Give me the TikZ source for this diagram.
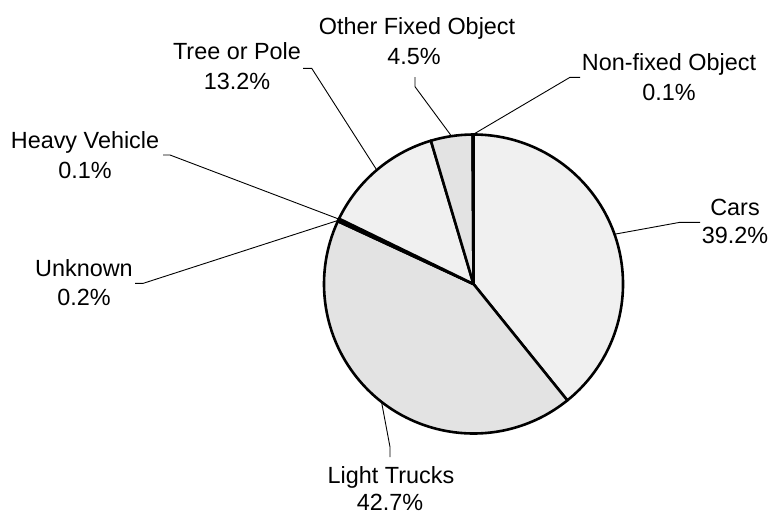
\documentclass[tikz,border=0pt]{standalone}
\usepackage{fontspec}
\setmainfont{Liberation Sans}
\begin{document}
\begin{tikzpicture}[x=1pt,y=-1pt,
  lbl/.style={anchor=base,inner sep=0pt,font=\fontsize{23.4}{29}\selectfont},
  leader/.style={draw=black,line width=0.9pt},
  slice/.style={draw=black,line width=2.6pt,line join=round}]
\useasboundingbox (0,0) rectangle (770,514);
\def\R{149.5}
\begin{scope}[shift={(473.5,284)},y=1pt]
  \coordinate (O) at (0,0);
  % slices clockwise from top
  \path[slice,fill=black!6] (O) -- (90:\R) arc[start angle=90,end angle=-51.12,radius=\R] -- cycle;
  \path[slice,fill=black!11] (O) -- (-51.12:\R) arc[start angle=-51.12,end angle=-204.84,radius=\R] -- cycle;
  \path[slice,fill=black] (O) -- (155.16:\R) arc[start angle=155.16,end angle=154.44,radius=\R] -- cycle;
  \path[slice,fill=black] (O) -- (154.44:\R) arc[start angle=154.44,end angle=154.08,radius=\R] -- cycle;
  \path[slice,fill=black!6] (O) -- (154.08:\R) arc[start angle=154.08,end angle=106.56,radius=\R] -- cycle;
  \path[slice,fill=black!11] (O) -- (106.56:\R) arc[start angle=106.56,end angle=90.36,radius=\R] -- cycle;
  \path[slice,fill=black!6] (O) -- (90.36:\R) arc[start angle=90.36,end angle=90,radius=\R] -- cycle;
  % leader start points (mid angles)
  \coordinate (pCars) at (19.44:\R);
  \coordinate (pLT) at (-127.98:\R);
  \coordinate (pUnk) at (154.8:\R);
  \coordinate (pHV) at (154.26:\R);
  \coordinate (pTree) at (130.32:\R);
  \coordinate (pOF) at (98.46:\R);
  \coordinate (pNF) at (90.18:\R);
\end{scope}
% leader bends / ends
\coordinate (bCars) at (680,222.3);  \coordinate (eCars) at (700,222.3);
\coordinate (bLT) at (390,447);      \coordinate (eLT) at (390,457);
\coordinate (bUnk) at (143.3,283.3); \coordinate (eUnk) at (135,283.3);
\coordinate (bHV) at (170,155);      \coordinate (eHV) at (163,155);
\coordinate (bTree) at (311.7,68.3); \coordinate (eTree) at (303,68.3);
\coordinate (bOF) at (415,86.7);     \coordinate (eOF) at (415,77);
\coordinate (bNF) at (570,77.3);     \coordinate (eNF) at (580,77.3);
\draw[leader] (pCars) -- (bCars) -- (eCars);
\draw[leader] (pLT) -- (bLT) -- (eLT);
\draw[leader] (pUnk) -- (bUnk) -- (eUnk);
\draw[leader] (pHV) -- (bHV) -- (eHV);
\draw[leader] (pTree) -- (bTree) -- (eTree);
\draw[leader] (pOF) -- (bOF) -- (eOF);
\draw[leader] (pNF) -- (bNF) -- (eNF);
% labels
\node[lbl] (tCars1) at (735,215) {Cars};
\node[lbl] (tCars2) at (735,243.5) {39.2\%};
\node[lbl] (tLT1) at (391,483.5) {Light Trucks};
\node[lbl] (tLT2) at (390,510.5) {42.7\%};
\node[lbl] (tUnk1) at (84,276) {Unknown};
\node[lbl] (tUnk2) at (84,305.5) {0.2\%};
\node[lbl] (tHV1) at (85,148.5) {Heavy Vehicle};
\node[lbl] (tHV2) at (85,178.3) {0.1\%};
\node[lbl] (tTree1) at (237,59.5) {Tree or Pole};
\node[lbl] (tTree2) at (237,89) {13.2\%};
\node[lbl] (tOF1) at (417,34.5) {Other Fixed Object};
\node[lbl] (tOF2) at (414,64) {4.5\%};
\node[lbl] (tNF1) at (669,70.5) {Non-fixed Object};
\node[lbl] (tNF2) at (669,100) {0.1\%};
\end{tikzpicture}
\end{document}
